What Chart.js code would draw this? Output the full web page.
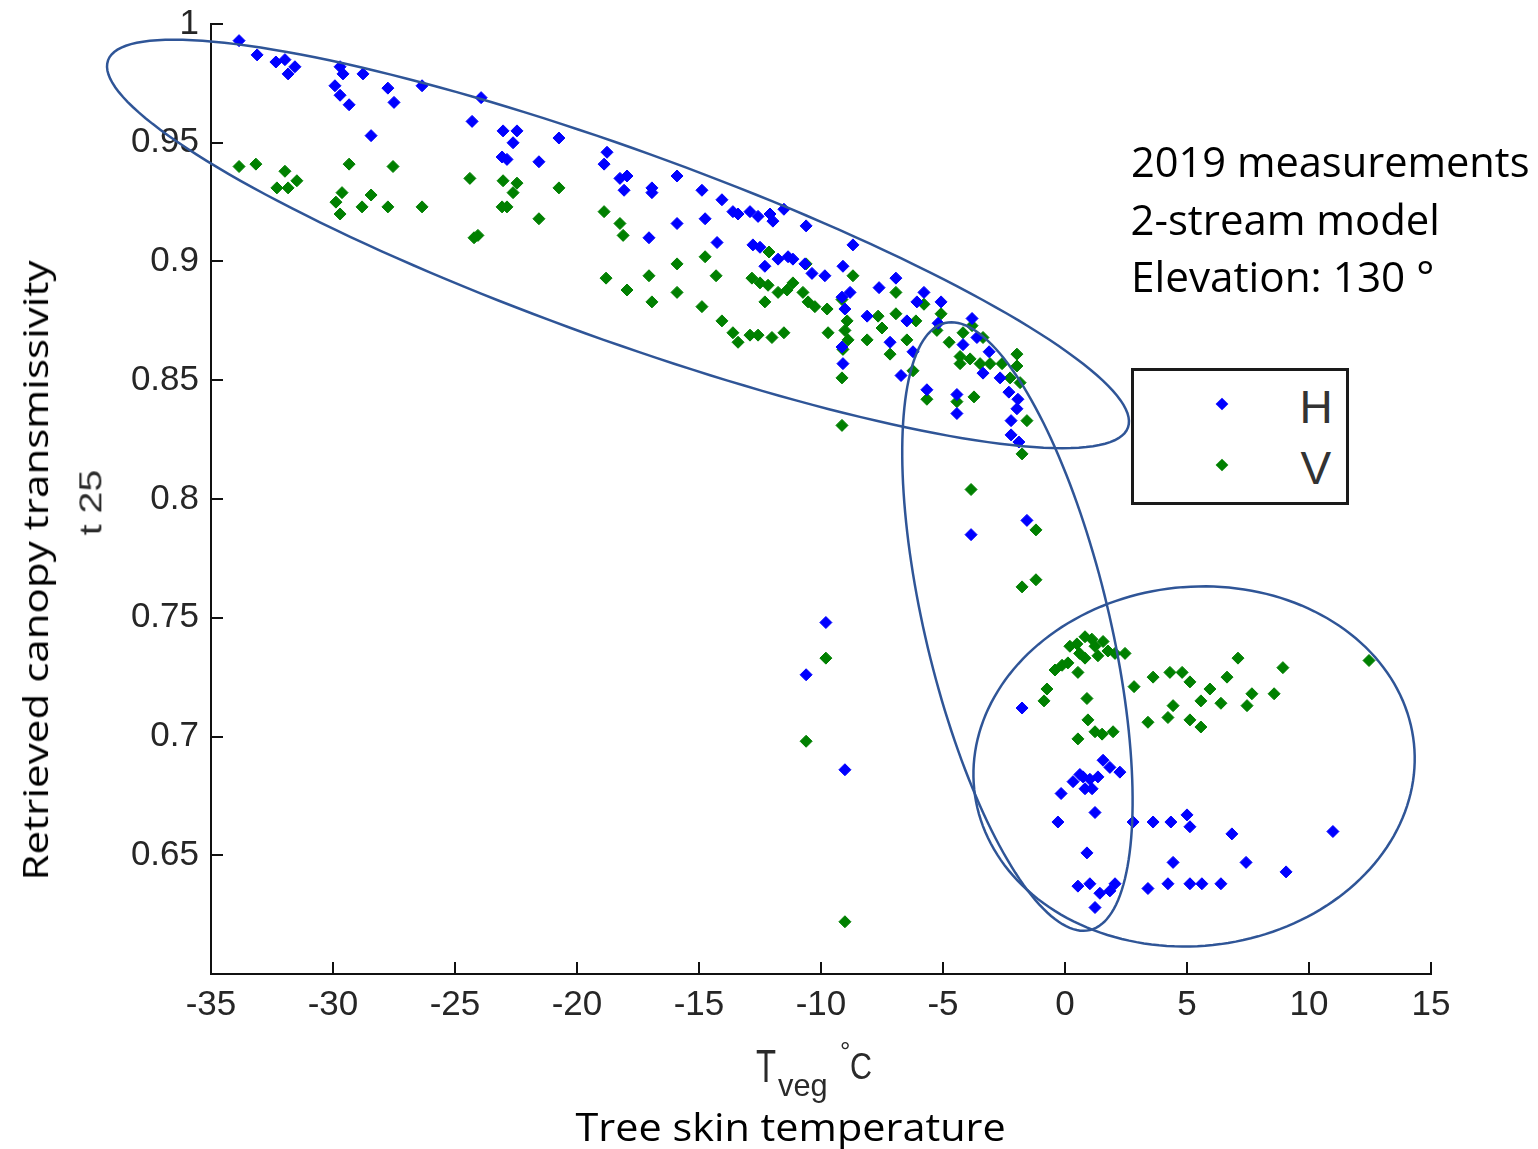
<!DOCTYPE html>
<html>
<head>
<meta charset="utf-8">
<script src="https://cdn.jsdelivr.net/npm/chart.js@4.4.1/dist/chart.umd.min.js"></script>
<style>
  html, body { margin: 0; padding: 0; background: #fff; }
  #wrap { position: relative; width: 1538px; height: 1149px; overflow: hidden; }
  #chart { position: absolute; left: 0; top: 0; }
  .txt { position: absolute; white-space: nowrap; line-height: 1; color: #000; }
  .ui { font-family: "Open Sans", sans-serif; }
  .ml { font-family: "Liberation Sans", Arial, sans-serif; color: #2a2a2a; }
  #legend { position: absolute; left: 1131px; top: 368px; width: 218px; height: 137px;
            box-sizing: border-box; border: 3px solid #1a1a1a; background: #fff; }
  .mark { position: absolute; width: 9px; height: 9px; transform: translate(-50%, -50%) rotate(45deg); }
</style>
</head>
<body>
<div id="wrap">
  <canvas id="chart" width="1538" height="1149"></canvas>

  <div class="txt ui" id="ytitle" style="font-size:35px">Retrieved canopy transmissivity</div>
  <div class="txt ml" id="ysub" style="font-size:31px">t 25</div>

  <div class="txt ml" id="xT" style="font-size:46px">T</div>
  <div class="txt ml" id="xveg" style="font-size:32px">veg</div>
  <div class="txt ml" id="xdeg" style="font-size:26px">°</div>
  <div class="txt ml" id="xC" style="font-size:36px">C</div>
  <div class="txt ui" id="xtitle" style="font-size:39px">Tree skin temperature</div>

  <div class="txt ui" id="note1" style="font-size:42px">2019 measurements</div>
  <div class="txt ui" id="note2" style="font-size:42px">2-stream model</div>
  <div class="txt ui" id="note3" style="font-size:42px">Elevation: 130 °</div>

  <div id="legend"></div>
  <div class="mark" style="left:1222px; top:404px; background:#0000ff"></div>
  <div class="mark" style="left:1222px; top:465px; background:#008000"></div>
  <div class="txt ml" id="legH" style="font-size:46px; color:#333">H</div>
  <div class="txt ml" id="legV" style="font-size:46px; color:#333">V</div>
</div>

<script>
// tree skin temperature (°C) vs retrieved canopy transmissivity
const hPoints = [
  [-33.85,0.993],[-33.11,0.987],[-32.34,0.984],[-31.97,0.985],[-31.56,0.982],[-31.84,0.979],
  [-29.71,0.982],[-29.59,0.979],[-29.92,0.974],[-29.71,0.970],[-29.34,0.966],[-28.77,0.979],
  [-27.75,0.973],[-27.50,0.967],[-26.35,0.974],[-28.44,0.953],[-23.93,0.969],[-24.30,0.959],
  [-23.03,0.955],[-22.46,0.955],[-22.62,0.950],[-23.07,0.944],[-22.87,0.943],[-20.74,0.952],
  [-21.56,0.942],[-18.77,0.946],[-18.89,0.941],[-18.24,0.935],[-17.95,0.936],[-18.07,0.930],
  [-16.93,0.931],[-16.93,0.929],[-15.90,0.936],[-14.88,0.930],[-14.06,0.926],[-13.61,0.921],
  [-13.40,0.920],[-12.91,0.921],[-12.58,0.919],[-12.09,0.920],[-11.97,0.917],[-11.52,0.922],
  [-10.61,0.915],[-15.90,0.916],[-14.75,0.918],[-17.05,0.910],[-14.26,0.908],[-12.79,0.907],
  [-12.50,0.906],[-12.30,0.898],[-11.76,0.901],[-11.35,0.902],[-11.15,0.901],[-10.66,0.899],
  [-10.37,0.895],[-9.84,0.894],[-9.10,0.898],[-9.14,0.885],[-8.69,0.907],[-8.81,0.887],
  [-9.02,0.880],[-8.11,0.877],[-7.62,0.889],[-6.93,0.893],[-6.07,0.883],[-5.78,0.887],
  [-5.08,0.883],[-6.48,0.875],[-7.17,0.866],[-6.23,0.862],[-5.20,0.874],[-3.81,0.876],
  [-3.61,0.868],[-4.18,0.865],[-3.11,0.862],[-3.36,0.853],[-2.66,0.851],[-2.30,0.845],
  [-1.93,0.842],[-1.97,0.838],[-2.21,0.833],[-2.21,0.827],[-1.89,0.824],[-5.66,0.846],
  [-4.43,0.844],[-4.43,0.836],[-6.72,0.852],[-9.10,0.857],[-9.14,0.864],[-3.85,0.785],
  [-1.56,0.791],[-9.80,0.748],[-10.61,0.726],[-9.02,0.686],[-1.76,0.712],[1.56,0.690],
  [1.84,0.687],[2.25,0.685],[0.61,0.684],[0.33,0.681],[1.02,0.682],[0.82,0.678],
  [1.11,0.678],[-0.16,0.676],[1.23,0.668],[-0.29,0.664],[2.79,0.664],[3.61,0.664],
  [4.34,0.664],[5.00,0.667],[5.12,0.662],[6.84,0.659],[10.98,0.660],[0.90,0.651],
  [4.43,0.647],[7.42,0.647],[9.06,0.643],[0.53,0.637],[1.02,0.638],[1.43,0.634],
  [1.84,0.635],[2.05,0.638],[3.40,0.636],[4.22,0.638],[5.12,0.638],[5.61,0.638],
  [6.39,0.638],[1.23,0.628],[1.35,0.683],[0.74,0.683]
];

const vPoints = [
  [-33.85,0.940],[-33.16,0.941],[-31.97,0.938],[-32.30,0.931],[-31.84,0.931],[-31.48,0.934],
  [-29.34,0.941],[-27.54,0.940],[-29.88,0.925],[-29.63,0.929],[-29.71,0.920],[-28.81,0.923],
  [-28.44,0.928],[-27.75,0.923],[-26.35,0.923],[-24.39,0.935],[-23.03,0.934],[-22.46,0.933],
  [-22.62,0.929],[-23.07,0.923],[-22.87,0.923],[-24.06,0.911],[-24.22,0.910],[-20.74,0.931],
  [-21.56,0.918],[-18.89,0.921],[-18.24,0.916],[-18.11,0.911],[-15.90,0.899],[-14.75,0.902],
  [-14.30,0.894],[-18.81,0.893],[-17.95,0.888],[-17.05,0.894],[-16.93,0.883],[-15.90,0.887],
  [-14.88,0.881],[-14.06,0.875],[-13.61,0.870],[-13.40,0.866],[-12.91,0.869],[-12.58,0.869],
  [-12.01,0.868],[-11.52,0.870],[-12.83,0.893],[-12.50,0.891],[-12.17,0.890],[-12.30,0.883],
  [-11.76,0.887],[-11.39,0.888],[-11.15,0.891],[-10.74,0.887],[-10.53,0.883],[-10.25,0.881],
  [-9.75,0.880],[-9.71,0.870],[-12.13,0.904],[-10.61,0.899],[-8.69,0.894],[-9.14,0.884],
  [-8.93,0.875],[-9.02,0.871],[-8.89,0.867],[-9.10,0.863],[-9.14,0.851],[-8.11,0.867],
  [-7.50,0.872],[-7.66,0.877],[-6.93,0.887],[-6.93,0.878],[-6.48,0.867],[-7.17,0.861],
  [-6.11,0.875],[-5.78,0.882],[-5.08,0.878],[-5.25,0.871],[-4.75,0.866],[-4.18,0.870],
  [-3.81,0.873],[-3.36,0.868],[-4.30,0.860],[-4.30,0.857],[-3.89,0.859],[-3.48,0.857],
  [-3.07,0.857],[-2.58,0.857],[-1.97,0.861],[-1.97,0.856],[-2.25,0.851],[-1.84,0.849],
  [-6.23,0.854],[-5.66,0.842],[-4.43,0.841],[-3.73,0.843],[-1.56,0.833],[-1.76,0.819],
  [-9.14,0.831],[-3.85,0.804],[-1.19,0.787],[-1.19,0.766],[-1.76,0.763],[-9.80,0.733],
  [-10.61,0.698],[-9.02,0.622],[0.82,0.742],[0.49,0.739],[1.23,0.738],[1.56,0.740],
  [1.76,0.736],[2.05,0.735],[2.46,0.735],[0.20,0.738],[-0.12,0.730],[-0.41,0.728],
  [0.12,0.731],[0.53,0.727],[0.82,0.733],[-0.74,0.720],[-0.86,0.715],[0.90,0.716],
  [0.94,0.707],[1.23,0.702],[1.52,0.701],[1.97,0.702],[0.53,0.699],[2.83,0.721],
  [3.61,0.725],[4.30,0.727],[4.80,0.727],[5.12,0.723],[5.94,0.720],[6.64,0.725],
  [7.09,0.733],[8.93,0.729],[12.46,0.732],[4.43,0.713],[4.22,0.708],[3.40,0.706],
  [5.12,0.707],[5.57,0.704],[5.57,0.715],[6.39,0.714],[7.46,0.713],[7.66,0.718],
  [8.57,0.718],[1.10,0.741],[0.60,0.735],[1.35,0.734]
];

const xTickValues = [-35, -30, -25, -20, -15, -10, -5, 0, 5, 10, 15];
const xTickLabels = ["-35", "-30", "-25", "-20", "-15", "-10", "-5", "0", "5", "10", "15"];
const yTickValues = [0.6, 0.65, 0.7, 0.75, 0.8, 0.85, 0.9, 0.95, 1];
const yTickLabels = ["", "0.65", "0.7", "0.75", "0.8", "0.85", "0.9", "0.95", "1"];

// hand-drawn outlines: centre and two semi-axis vectors, all in data units
const outlines = [
  { c: [-18.32, 0.9074], a: [20.9, -0.0773], b: [-1.32, -0.0377] },
  { c: [-1.95, 0.7463],  a: [2.97, -0.1278], b: [3.67, 0.0090] },
  { c: [5.29, 0.6874],   a: [9.01, 0.0097],  b: [0.77, -0.0752] }
];

const inwardTicks = {
  id: "inwardTicks",
  afterDraw(chart) {
    const { ctx, chartArea: area, scales: { x, y } } = chart;
    ctx.save();
    ctx.strokeStyle = "#111";
    ctx.lineWidth = 2;
    ctx.beginPath();
    x.ticks.forEach(t => {
      const px = Math.round(x.getPixelForValue(t.value));
      ctx.moveTo(px, area.bottom);
      ctx.lineTo(px, area.bottom - 12);
    });
    y.ticks.forEach(t => {
      const py = Math.round(y.getPixelForValue(t.value));
      ctx.moveTo(area.left, py);
      ctx.lineTo(area.left + 12, py);
    });
    ctx.stroke();
    ctx.restore();
  }
};

const outlinePlugin = {
  id: "outlines",
  afterDraw(chart) {
    const { ctx, scales: { x, y } } = chart;
    ctx.save();
    ctx.strokeStyle = "#2f5597";
    ctx.lineWidth = 2.5;
    outlines.forEach(o => {
      ctx.beginPath();
      for (let i = 0; i <= 180; i++) {
        const th = i / 180 * Math.PI * 2;
        const t = o.c[0] + o.a[0] * Math.cos(th) + o.b[0] * Math.sin(th);
        const tau = o.c[1] + o.a[1] * Math.cos(th) + o.b[1] * Math.sin(th);
        const px = x.getPixelForValue(t), py = y.getPixelForValue(tau);
        if (i === 0) ctx.moveTo(px, py); else ctx.lineTo(px, py);
      }
      ctx.closePath();
      ctx.stroke();
    });
    ctx.restore();
  }
};

const tickFont = { family: "'Liberation Sans', Arial, sans-serif", size: 35 };

new Chart(document.getElementById("chart"), {
  type: "scatter",
  data: {
    datasets: [
      {
        label: "H",
        data: hPoints.map(([t, tau]) => ({ x: t, y: tau })),
        pointStyle: "rectRot", pointRadius: 6, pointBorderWidth: 1,
        backgroundColor: "#0000ff", borderColor: "#0000ff"
      },
      {
        label: "V",
        data: vPoints.map(([t, tau]) => ({ x: t, y: tau })),
        pointStyle: "rectRot", pointRadius: 6, pointBorderWidth: 1,
        backgroundColor: "#008000", borderColor: "#008000"
      }
    ]
  },
  options: {
    responsive: false,
    animation: false,
    layout: { padding: { top: 24, right: 107, left: 0, bottom: 0 } },
    plugins: { legend: { display: false }, tooltip: { enabled: false } },
    scales: {
      x: {
        type: "linear", min: -35, max: 15,
        afterBuildTicks: s => { s.ticks = xTickValues.map(v => ({ value: v })); },
        afterFit: s => { s.height = 175; s.paddingLeft = 0; s.paddingRight = 0; },
        grid: { display: true, drawOnChartArea: false, drawTicks: false },
        border: { display: true, color: "#111", width: 2 },
        ticks: { autoSkip: false, maxRotation: 0, padding: 10, color: "#262626", font: tickFont,
                 callback: (v, i) => xTickLabels[i] }
      },
      y: {
        type: "linear", min: 0.6, max: 1,
        afterBuildTicks: s => { s.ticks = yTickValues.map(v => ({ value: v })); },
        afterFit: s => { s.width = 211; s.paddingTop = 0; s.paddingBottom = 0; },
        grid: { display: true, drawOnChartArea: false, drawTicks: false },
        border: { display: true, color: "#111", width: 2 },
        ticks: { autoSkip: false, padding: 12, color: "#262626", font: tickFont,
                 callback: (v, i) => yTickLabels[i] }
      }
    }
  },
  plugins: [inwardTicks, outlinePlugin]
});

// place the html labels: centre of line box, optional rotation and fitted width
function placeText(id, cx, cy, width, rot) {
  const el = document.getElementById(id);
  const w = el.offsetWidth, h = el.offsetHeight;
  const k = width ? width / w : 1;
  el.style.left = (cx - w / 2) + "px";
  el.style.top = (cy - h / 2) + "px";
  el.style.transform = `rotate(${rot || 0}deg) scaleX(${k})`;
}

placeText("ytitle", 34, 570, 620, -90);
placeText("ysub", 91, 502, 66, -90);
placeText("xT", 766, 1066, 20);
placeText("xveg", 803, 1085, 50);
placeText("xdeg", 845, 1051, 0);
placeText("xC", 861, 1067, 22);
placeText("xtitle", 790, 1125, 430);
placeText("note1", 1330, 161, 399);
placeText("note2", 1285, 219, 309);
placeText("note3", 1282, 276, 303);
placeText("legH", 1316, 407, 0);
placeText("legV", 1316, 468, 0);
</script>
</body>
</html>
